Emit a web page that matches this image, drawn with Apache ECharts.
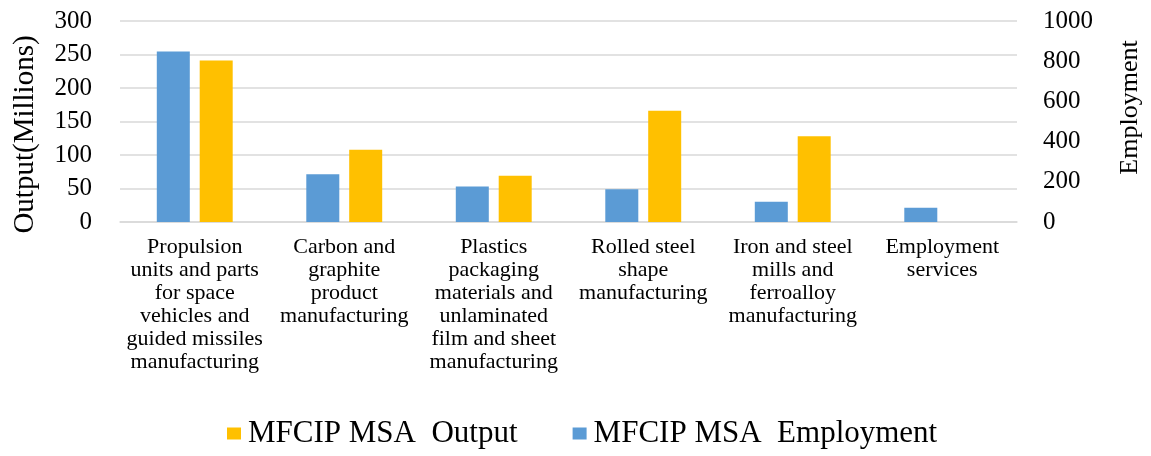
<!DOCTYPE html>
<html>
<head>
<meta charset="utf-8">
<script src="https://cdn.jsdelivr.net/npm/echarts@6/dist/echarts.min.js"></script>
<style>
  html, body { margin: 0; padding: 0; background: #fff; }
  #chart { width: 1151px; height: 456px; }
</style>
</head>
<body>
<div id="chart"></div>
<script>
const categories = [
  'Propulsion\nunits and parts\nfor space\nvehicles and\nguided missiles\nmanufacturing',
  'Carbon and\ngraphite\nproduct\nmanufacturing',
  'Plastics\npackaging\nmaterials and\nunlaminated\nfilm and sheet\nmanufacturing',
  'Rolled steel\nshape\nmanufacturing',
  'Iron and steel\nmills and\nferroalloy\nmanufacturing',
  'Employment\nservices'
]
const employment = [848, 237, 177, 163, 101, 71]
const output = [241, 108, 69, 166, 128, null]

const FONT = '"Liberation Serif", "DejaVu Serif", serif'
const GRID_COLOR = '#d9d9d9'

const chart = echarts.init(document.getElementById('chart'))
chart.setOption({
  animation: false,
  textStyle: { fontFamily: FONT },
  grid: { left: 120, right: 134, top: 21, bottom: 234 },
  legend: {
    data: ['MFCIP MSA  Output', 'MFCIP MSA  Employment'],
    bottom: 2,
    left: 222,
    itemWidth: 14, itemHeight: 12,
    itemGap: 55,
    icon: 'rect',
    textStyle: { fontFamily: FONT, fontSize: 31, color: '#000', padding: [0, 0, 0, 2] },
  },
  xAxis: {
    type: 'category',
    data: categories,
    axisLine: { lineStyle: { color: GRID_COLOR, width: 1.5 } },
    axisTick: { show: false },
    axisLabel: {
      interval: 0, margin: 14,
      fontFamily: FONT, fontSize: 22, lineHeight: 23, color: '#000', align: 'center',
    },
  },
  yAxis: [
    {
      type: 'value', min: 0, max: 300, interval: 50,
      name: 'Output(Millions)', nameLocation: 'middle', nameGap: 80,
      nameTextStyle: { fontFamily: FONT, fontSize: 29, color: '#000', padding: [0, 26, 0, 0] },
      axisLabel: { fontFamily: FONT, fontSize: 25, color: '#000', margin: 28 },
      axisLine: { show: false }, axisTick: { show: false },
      splitLine: { lineStyle: { color: GRID_COLOR, width: 1.5 } },
    },
    {
      type: 'value', min: 0, max: 1000, interval: 200,
      name: 'Employment', nameLocation: 'middle', nameGap: 100,
      nameTextStyle: { fontFamily: FONT, fontSize: 26, color: '#000', padding: [0, 0, 0, 28] },
      axisLabel: { fontFamily: FONT, fontSize: 25, color: '#000', margin: 26, formatter: v => String(v) },
      axisLine: { show: false }, axisTick: { show: false },
      splitLine: { show: false },
    },
  ],
  series: [
    {
      name: 'MFCIP MSA  Employment', type: 'bar', yAxisIndex: 1,
      data: employment, barWidth: 33, barGap: '30%',
      itemStyle: { color: '#5b9bd5' },
    },
    {
      name: 'MFCIP MSA  Output', type: 'bar', yAxisIndex: 0,
      data: output, barWidth: 33,
      itemStyle: { color: '#ffc000' },
    },
  ],
})
</script>
</body>
</html>
